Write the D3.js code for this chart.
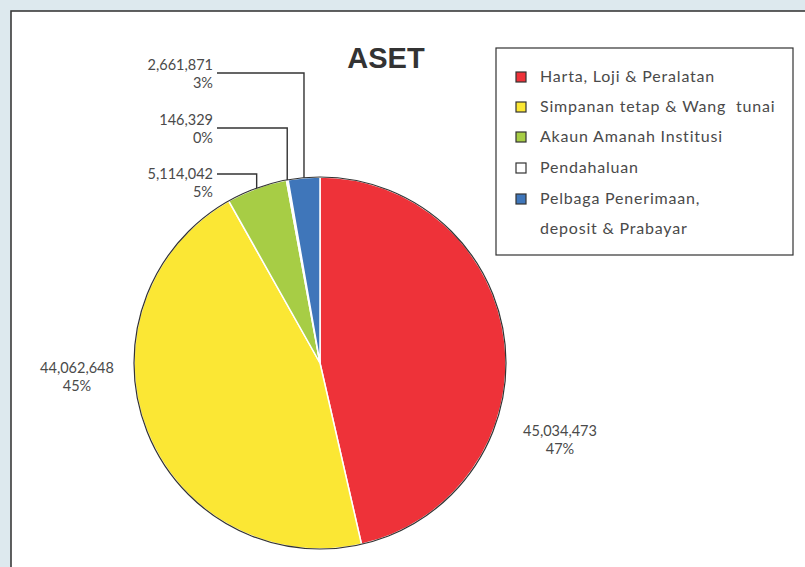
<!DOCTYPE html>
<head>
  <meta charset="utf-8">
  <script src="https://d3js.org/d3.v7.min.js"></script>
  <style>
    body { margin: 0; background: #dde9ee; font-family: "Lato", "Open Sans", sans-serif; }
    text { fill: #4a4a4a; white-space: pre; }
  </style>
</head>
<body>
  <div id="chart"></div>
  <script>
    // data
    var categories = ["Harta, Loji & Peralatan", "Simpanan tetap & Wang  tunai", "Akaun Amanah Institusi", "Pendahaluan", "Pelbaga Penerimaan, deposit & Prabayar"];
    var values = [45034473, 44062648, 5114042, 146329, 2661871];
    var pctLabels = ["47%", "45%", "5%", "0%", "3%"];
    var colors = ["#ee3239", "#fbe734", "#a7cd45", "#ffffff", "#3f76ba"];
    var legendLines = [["Harta, Loji & Peralatan"], ["Simpanan tetap & Wang  tunai"], ["Akaun Amanah Institusi"], ["Pendahaluan"], ["Pelbaga Penerimaan,", "deposit & Prabayar"]];

    var width = 805, height = 567;
    var cx = 320, cy = 363, r = 186;
    var fmt = d3.format(",");

    var svg = d3.select("#chart").append("svg")
      .attr("width", width)
      .attr("height", height);

    // white panel
    svg.append("rect")
      .attr("x", 11).attr("y", 11)
      .attr("width", width + 20).attr("height", height + 20)
      .attr("fill", "#fff")
      .attr("stroke", "#3a3a3a")
      .attr("stroke-width", 1.6);

    svg.append("text")
      .attr("x", 386).attr("y", 68)
      .attr("text-anchor", "middle")
      .style("font-family", "'Liberation Sans', Arial, sans-serif")
      .style("font-weight", "bold")
      .style("font-size", "29px")
      .style("fill", "#333")
      .text("ASET");

    var pie = d3.pie().sort(null).value(function(d) { return d; });
    var arcs = pie(values);
    var arc = d3.arc().innerRadius(0).outerRadius(r);

    var g = svg.append("g").attr("transform", "translate(" + cx + "," + cy + ")");

    g.selectAll("path.slice")
        .data(arcs)
      .enter().append("path")
        .attr("class", "slice")
        .attr("d", arc)
        .attr("fill", function(d, i) { return colors[i]; })
        .attr("stroke", "#fff")
        .attr("stroke-width", 1.5);

    g.append("circle")
      .attr("r", r)
      .attr("fill", "none")
      .attr("stroke", "#333")
      .attr("stroke-width", 1.2);

    // labels: [x, y of first line, anchor, leader line y or null]
    var labelPos = [
      [560, 436, "middle", null],
      [77, 373, "middle", null],
      [213, 179, "end", 174],
      [213, 125, "end", 128],
      [213, 70, "end", 73]
    ];

    arcs.forEach(function(d, i) {
      var p = labelPos[i];
      var t = svg.append("text")
        .attr("x", p[0]).attr("y", p[1])
        .attr("text-anchor", p[2])
        .style("font-size", "14.5px");
      t.append("tspan").attr("x", p[0]).text(fmt(values[i]));
      t.append("tspan").attr("x", p[0]).attr("dy", 18).text(pctLabels[i]);

      if (p[3] !== null) {
        var a = (d.startAngle + d.endAngle) / 2;
        var ex = cx + r * Math.sin(a), ey = cy - r * Math.cos(a);
        svg.append("path")
          .attr("d", "M" + (p[0] + 4) + "," + p[3] + "H" + ex + "V" + ey)
          .attr("fill", "none")
          .attr("stroke", "#333")
          .attr("stroke-width", 1.4);
      }
    });

    // legend
    svg.append("rect")
      .attr("x", 496).attr("y", 48)
      .attr("width", 297).attr("height", 207)
      .attr("fill", "#fff")
      .attr("stroke", "#333")
      .attr("stroke-width", 1.2);

    var ly = [77, 107, 137, 168, 199];
    legendLines.forEach(function(lines, i) {
      svg.append("rect")
        .attr("x", 516).attr("y", ly[i] - 5)
        .attr("width", 10).attr("height", 10)
        .attr("fill", colors[i])
        .attr("stroke", "#333")
        .attr("stroke-width", 1.2);
      lines.forEach(function(s, j) {
        svg.append("text")
          .attr("x", 540).attr("y", ly[i] + 5 + j * 30)
          .style("font-size", "16px")
          .style("letter-spacing", "0.8px")
          .text(s);
      });
    });
  </script>
</body>
